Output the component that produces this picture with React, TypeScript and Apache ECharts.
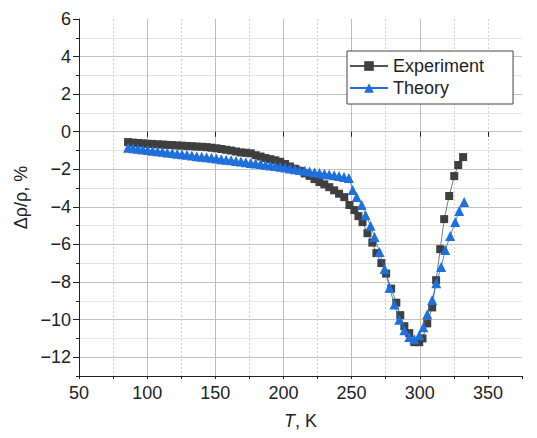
import React, { useEffect, useRef } from "react";
import * as echarts from "echarts";

// Experiment: temperature (K) and Δρ/ρ (%)
const expT = [
  86.0, 89.6, 93.2, 96.8, 100.4, 104.0, 107.6, 111.2, 114.8, 118.4, 122.0, 125.6, 129.2, 132.8,
  136.4, 140.0, 143.6, 147.2, 150.8, 154.4, 158.0, 161.6, 165.2, 168.8, 172.4, 176.0, 179.6, 183.2,
  186.8, 190.4, 194.0, 197.6, 201.2, 204.8, 208.4, 212.0, 215.6, 219.2, 222.8, 226.4, 230.0, 233.6,
  237.2, 240.8, 244.6, 248.4, 252.0, 255.0, 258.0, 261.6, 265.2, 268.2, 271.8, 275.3, 279.0, 282.8,
  285.7, 288.7, 292.3, 296.0, 299.6, 302.0, 305.5, 309.1, 312.0, 315.0, 317.9, 321.6, 325.3, 328.2,
  331.8,
];
const expV = [
  -0.55, -0.58, -0.6, -0.62, -0.64, -0.65, -0.67, -0.68, -0.7, -0.71, -0.73, -0.74, -0.76, -0.77,
  -0.79, -0.8, -0.82, -0.85, -0.88, -0.92, -0.96, -1.0, -1.05, -1.1, -1.12, -1.15, -1.25, -1.32,
  -1.4, -1.46, -1.52, -1.6, -1.72, -1.85, -1.97, -2.08, -2.22, -2.35, -2.52, -2.68, -2.8, -2.95,
  -3.12, -3.3, -3.48, -3.9, -4.17, -4.49, -4.81, -5.4, -5.9, -6.46, -6.99, -7.55, -8.35, -9.1,
  -9.76, -10.35, -10.72, -11.2, -11.2, -11.0, -10.2, -9.35, -7.9, -6.25, -4.65, -3.42, -2.36, -1.77,
  -1.35,
];

// Theory: temperature (K) and Δρ/ρ (%)
const theoryT = [
  86.0, 89.6, 93.2, 96.8, 100.4, 104.0, 107.6, 111.2, 114.8, 118.4, 122.0, 125.6, 129.2, 132.8,
  136.4, 140.0, 143.6, 147.2, 150.8, 154.4, 158.0, 161.6, 165.2, 168.8, 172.4, 176.0, 179.6, 183.2,
  186.8, 190.4, 194.0, 197.6, 201.2, 204.8, 208.4, 212.0, 215.6, 219.2, 222.8, 226.4, 230.0, 233.6,
  237.2, 240.8, 244.4, 248.0, 250.8, 253.7, 257.4, 260.3, 263.9, 266.8, 270.5, 274.2, 277.8, 281.4,
  285.0, 288.7, 292.3, 296.0, 299.6, 302.6, 305.5, 309.1, 312.1, 315.7, 318.7, 322.3, 326.0, 328.9,
  332.6,
];
const theoryV = [
  -0.85, -0.88, -0.91, -0.94, -0.97, -1.01, -1.04, -1.07, -1.1, -1.13, -1.17, -1.2, -1.23, -1.26,
  -1.3, -1.33, -1.36, -1.39, -1.42, -1.46, -1.49, -1.52, -1.56, -1.59, -1.62, -1.66, -1.69, -1.72,
  -1.76, -1.8, -1.83, -1.87, -1.91, -1.95, -1.99, -2.03, -2.07, -2.11, -2.15, -2.19, -2.23, -2.28,
  -2.32, -2.36, -2.41, -2.46, -3.1, -3.48, -3.9, -4.44, -5.0, -5.6, -6.4, -7.3, -8.3, -9.2,
  -10.0, -10.56, -10.93, -11.04, -10.83, -10.4, -9.71, -8.96, -8.06, -7.2, -6.3, -5.55, -4.81, -4.22,
  -3.74,
];

const xMajorTicks = [50, 100, 150, 200, 250, 300, 350];
const yMajorTicks = [-12, -10, -8, -6, -4, -2, 0, 2, 4, 6];

const FONT = "'Liberation Sans', Arial, Helvetica, sans-serif";
const TXT = "#222";

export default function App() {
  const ref = useRef<HTMLDivElement>(null);

  useEffect(() => {
    if (!ref.current) return;
    const chart = echarts.init(ref.current, undefined, { renderer: "svg" });
    const expData = expT.map((t, i) => [t, expV[i]]);
    const thData = theoryT.map((t, i) => [t, theoryV[i]]);

    chart.setOption({
      animation: false,
      backgroundColor: "#fff",
      textStyle: { fontFamily: FONT },
      grid: { left: 79, top: 19, width: 443, height: 357, containLabel: false },
      legend: {
        orient: "vertical",
        left: 347,
        top: 51,
        padding: [5, 29, 6, 2],
        itemWidth: 38,
        itemHeight: 12,
        itemGap: 2,
        borderColor: "#444",
        borderWidth: 1,
        backgroundColor: "#fff",
        textStyle: { fontSize: 18, lineHeight: 20, color: TXT, fontFamily: FONT },
        data: ["Experiment", "Theory"],
      },
      xAxis: [
        {
          type: "value",
          min: 50,
          max: 375,
          interval: 25,
          position: "bottom",
          name: "{it|T}, K",
          nameLocation: "middle",
          nameGap: 36,
          nameTextStyle: {
            fontSize: 18,
            color: TXT,
            fontFamily: FONT,
            rich: { it: { fontStyle: "italic", fontSize: 18, color: TXT, fontFamily: FONT } },
          },
          axisLine: { show: true, onZero: false, lineStyle: { color: "#222", width: 1 } },
          axisTick: { show: true, length: 3, lineStyle: { color: "#222" } },
          axisLabel: {
            fontSize: 18,
            color: TXT,
            margin: 8,
            fontFamily: FONT,
            formatter: (v: number) => (v % 50 === 0 && v <= 350 ? String(v) : ""),
          },
          splitLine: {
            show: true,
            showMaxLine: false,
            lineStyle: { color: "#cfcfcf", type: [2, 2], width: 1 },
          },
        },
        {
          type: "value",
          min: 50,
          max: 375,
          interval: 50,
          position: "bottom",
          axisLine: { show: false },
          axisTick: { show: true, length: 5, customValues: xMajorTicks, lineStyle: { color: "#222" } },
          axisLabel: { show: false },
          splitLine: {
            show: true,
            showMinLine: false,
            showMaxLine: false,
            lineStyle: { color: "#bdbdbd", width: 1 },
          },
        },
      ],
      yAxis: [
        {
          type: "value",
          min: -13,
          max: 6,
          interval: 1,
          position: "left",
          name: "Δρ/ρ, %",
          nameLocation: "middle",
          nameGap: 48,
          nameTextStyle: { fontSize: 18, color: TXT, fontFamily: FONT },
          axisLine: { show: true, onZero: false, lineStyle: { color: "#222", width: 1 } },
          axisTick: { show: true, length: 3, lineStyle: { color: "#222" } },
          axisLabel: {
            fontSize: 18,
            color: TXT,
            margin: 8,
            fontFamily: FONT,
            formatter: (v: number) => (v % 2 === 0 ? String(v).replace("-", "\u2212") : ""),
          },
          splitLine: {
            show: true,
            showMaxLine: false,
            lineStyle: { color: ["#e4e4e4", "#c4c4c4"], width: 1 },
          },
        },
        {
          type: "value",
          min: -13,
          max: 6,
          interval: 1,
          position: "left",
          axisLine: { show: false },
          axisTick: { show: true, length: 6, customValues: yMajorTicks, lineStyle: { color: "#222" } },
          axisLabel: { show: false },
          splitLine: { show: false },
        },
      ],
      series: [
        {
          name: "Experiment",
          type: "line",
          xAxisIndex: 0,
          yAxisIndex: 0,
          data: expData,
          symbol: "rect",
          symbolSize: 8,
          showAllSymbol: true,
          itemStyle: { color: "#3f3f3f" },
          lineStyle: { color: "#555", width: 0.8 },
          z: 3,
        },
        {
          name: "Theory",
          type: "line",
          xAxisIndex: 0,
          yAxisIndex: 0,
          data: thData,
          symbol: "triangle",
          symbolSize: 10,
          showAllSymbol: true,
          itemStyle: { color: "#1f6fdc" },
          lineStyle: { color: "#1f6fdc", width: 0.8 },
          z: 4,
        },
      ],
    });

    return () => chart.dispose();
  }, []);

  return (
    <div
      ref={ref}
      style={{ position: "absolute", left: 0, top: 0, width: 537, height: 438 }}
    />
  );
}
